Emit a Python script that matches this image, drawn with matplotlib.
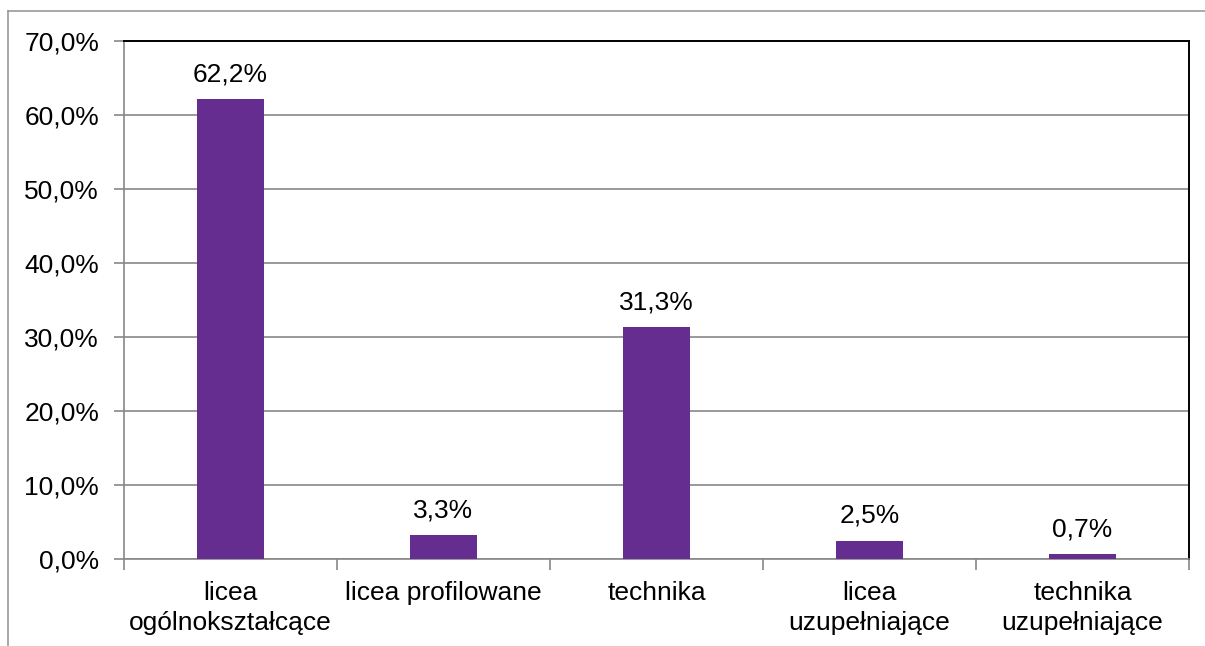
import matplotlib
matplotlib.use("Agg")
import matplotlib.pyplot as plt
from matplotlib.lines import Line2D
from matplotlib.ticker import FixedLocator, NullFormatter

categories = ["licea\nogólnokształcące", "licea profilowane", "technika",
              "licea\nuzupełniające", "technika\nuzupełniające"]
values = [62.2, 3.3, 31.3, 2.5, 0.7]
yticks = [0, 10, 20, 30, 40, 50, 60, 70]

plt.rcParams["font.family"] = ["Liberation Sans", "DejaVu Sans"]
FS = 19

W, H = 1205, 646
fig = plt.figure(figsize=(W / 100, H / 100), dpi=100)
ax = fig.add_axes([124 / W, 1 - 559 / H, (1189 - 124) / W, (559 - 41) / H])

x = list(range(len(categories)))
ax.bar(x, values, width=0.315, color="#662D91", zorder=3)
for xi, v in zip(x, values):
    ax.annotate(f"{v:.1f}%".replace(".", ","), (xi, v), xytext=(0, 9),
                textcoords="offset points", ha="center", va="bottom", fontsize=FS)

ax.set_xlim(-0.5, len(categories) - 0.5)
ax.set_ylim(0, 70)
ax.set_yticks(yticks)
ax.set_yticklabels([f"{t:.1f}%".replace(".", ",") for t in yticks], fontsize=FS)
ax.yaxis.grid(True, color="#888888", linewidth=1.2, zorder=0)

ax.xaxis.set_major_locator(FixedLocator([i - 0.5 for i in range(len(categories) + 1)]))
ax.xaxis.set_major_formatter(NullFormatter())
ax.xaxis.set_minor_locator(FixedLocator(x))
ax.set_xticklabels(categories, minor=True, fontsize=FS, linespacing=1.3)
ax.tick_params(axis="x", which="minor", length=0, pad=16)
ax.tick_params(axis="x", which="major", length=8, width=1.2, color="#888888")
ax.tick_params(axis="y", length=7, width=1.2, color="#888888", pad=11)

for side in ["left", "bottom"]:
    ax.spines[side].set_color("#888888")
    ax.spines[side].set_linewidth(1.2)
for side in ["top", "right"]:
    ax.spines[side].set_color("black")
    ax.spines[side].set_linewidth(1.4)

# outer chart border (grey, top and left visible)
fig.add_artist(Line2D([8 / W, 1], [1 - 11 / H, 1 - 11 / H], color="#999999", linewidth=1.2))
fig.add_artist(Line2D([8 / W, 8 / W], [0, 1 - 11 / H], color="#999999", linewidth=1.2))

fig.savefig("out.png", dpi=100)
